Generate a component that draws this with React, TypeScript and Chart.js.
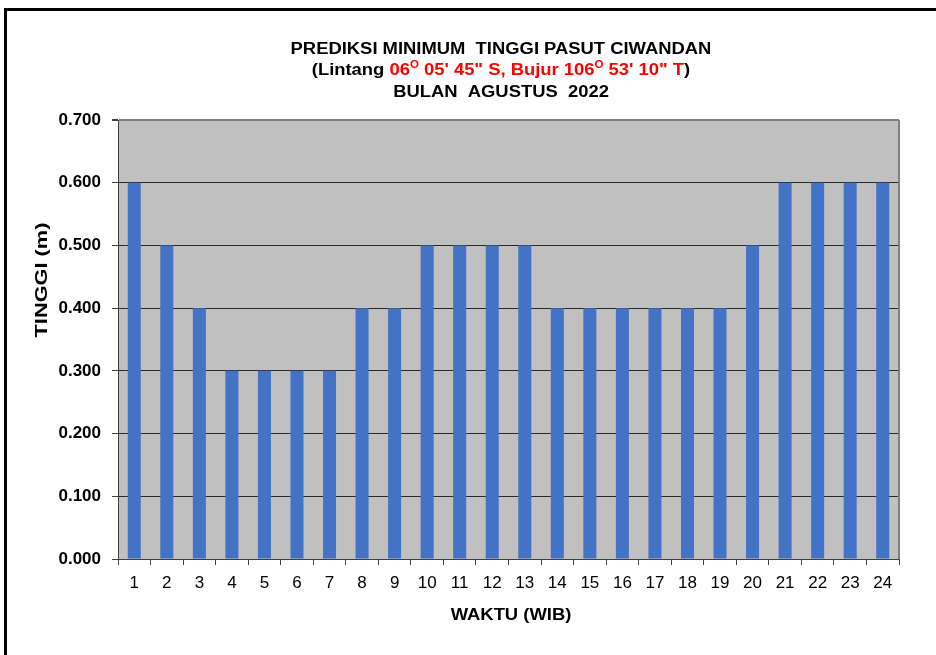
import React, { useEffect, useRef } from "react";
import { Chart, registerables } from "chart.js";

Chart.register(...registerables);

const hours: string[] = ["1","2","3","4","5","6","7","8","9","10","11","12","13","14","15","16","17","18","19","20","21","22","23","24"];
const heights: number[] = [0.6,0.5,0.4,0.3,0.3,0.3,0.3,0.4,0.4,0.5,0.5,0.5,0.5,0.4,0.4,0.4,0.4,0.4,0.4,0.5,0.6,0.6,0.6,0.6];
const titleLine1 = "PREDIKSI MINIMUM  TINGGI PASUT CIWANDAN";
const titleLine3 = "BULAN  AGUSTUS  2022";
const yTitle = "TINGGI (m)";
const xTitle = "WAKTU (WIB)";

const FONT = "Arial, 'Liberation Sans', sans-serif";
const STRETCH = 1.15;

type Seg = { t: string; c: string; sup?: boolean };
const titleLine2: Seg[] = [
  { t: "(Lintang ", c: "#000" },
  { t: "06", c: "#FF0000" },
  { t: "O", c: "#FF0000", sup: true },
  { t: " 05' 45\" S, Bujur 106", c: "#FF0000" },
  { t: "O", c: "#FF0000", sup: true },
  { t: " 53' 10\" T", c: "#FF0000" },
  { t: ")", c: "#000" },
];

function drawStretched(ctx: CanvasRenderingContext2D, segs: Seg[], cx: number, baseline: number, size: number) {
  const big = `bold ${size}px ${FONT}`;
  const small = `bold ${Math.round(size * 0.62)}px ${FONT}`;
  let total = 0;
  for (const s of segs) {
    ctx.font = s.sup ? small : big;
    total += ctx.measureText(s.t).width;
  }
  ctx.save();
  ctx.translate(cx, baseline);
  ctx.scale(STRETCH, 1);
  let x = -total / 2;
  ctx.textAlign = "left";
  ctx.textBaseline = "alphabetic";
  for (const s of segs) {
    ctx.font = s.sup ? small : big;
    ctx.fillStyle = s.c;
    ctx.fillText(s.t, x, s.sup ? -size * 0.42 : 0);
    x += ctx.measureText(s.t).width;
  }
  ctx.restore();
}

const decorPlugin = {
  id: "decor",
  beforeDraw(chart: any) {
    const { ctx, chartArea: a } = chart;
    ctx.save();
    ctx.fillStyle = "#C0C0C0";
    ctx.fillRect(a.left, a.top, a.right - a.left, a.bottom - a.top);
    ctx.restore();
  },
  afterDraw(chart: any) {
    const { ctx, chartArea: a } = chart;
    ctx.save();
    ctx.strokeStyle = "#808080";
    ctx.lineWidth = 2;
    ctx.beginPath();
    ctx.moveTo(a.right, a.top);
    ctx.lineTo(a.right, a.bottom);
    ctx.stroke();
    ctx.restore();

    drawStretched(ctx, [{ t: titleLine1, c: "#000" }], 501, 53.5, 16);
    drawStretched(ctx, titleLine2, 501, 75, 16);
    drawStretched(ctx, [{ t: titleLine3, c: "#000" }], 501, 97, 16);
    drawStretched(ctx, [{ t: xTitle, c: "#000" }], 511, 620, 16);

    ctx.save();
    ctx.translate(47, 280);
    ctx.rotate(-Math.PI / 2);
    ctx.scale(1.28, 1);
    ctx.font = `bold 17px ${FONT}`;
    ctx.fillStyle = "#000";
    ctx.textAlign = "center";
    ctx.textBaseline = "alphabetic";
    ctx.fillText(yTitle, 0, 0);
    ctx.restore();
  },
};

export default function App() {
  const ref = useRef<HTMLCanvasElement>(null);
  useEffect(() => {
    if (!ref.current) return;
    const chart = new Chart(ref.current, {
      type: "bar",
      data: {
        labels: hours,
        datasets: [
          {
            data: heights,
            backgroundColor: "#4472C4",
            borderWidth: 0,
            barPercentage: 0.4,
            categoryPercentage: 1,
          },
        ],
      },
      options: {
        animation: false,
        responsive: false,
        maintainAspectRatio: false,
        layout: { padding: { left: 0, top: 120, right: 37, bottom: 56 } },
        plugins: { legend: { display: false }, title: { display: false }, tooltip: { enabled: false } },
        scales: {
          x: {
            afterFit: (s: any) => { s.height = 40; },
            grid: { drawOnChartArea: false, drawTicks: true, tickLength: 6, tickColor: "#404040", offset: true },
            border: { color: "#404040", width: 1 },
            ticks: { color: "#000", font: { family: FONT, size: 17 }, padding: 8, maxRotation: 0, autoSkip: false },
          },
          y: {
            min: 0,
            max: 0.7,
            afterFit: (s: any) => { s.width = 118; },
            grid: {
              color: (c: any) => (c.tick && Math.abs(c.tick.value - 0.7) < 1e-6 ? "#808080" : "#2a2a2a"),
              lineWidth: (c: any) => (c.tick && Math.abs(c.tick.value - 0.7) < 1e-6 ? 2 : 1),
              tickLength: 6,
              tickColor: "#404040",
            },
            border: { color: "#404040", width: 1 },
            ticks: {
              stepSize: 0.1,
              color: "#000",
              font: { family: FONT, size: 17, weight: "bold" },
              padding: 11,
              callback: (v: any) => Number(v).toFixed(3),
            },
          },
        },
      },
      plugins: [decorPlugin],
    });
    return () => chart.destroy();
  }, []);
  return (
    <div style={{ position: "fixed", left: 0, top: 0, width: 936, height: 655, background: "#fff", overflow: "hidden" }}>
      <div style={{ position: "absolute", left: 4, top: 8, width: 1000, height: 700, borderLeft: "3px solid #000", borderTop: "3px solid #000" }} />
      <canvas ref={ref} width={936} height={655} style={{ position: "absolute", left: 0, top: 0, width: 936, height: 655 }} />
    </div>
  );
}
